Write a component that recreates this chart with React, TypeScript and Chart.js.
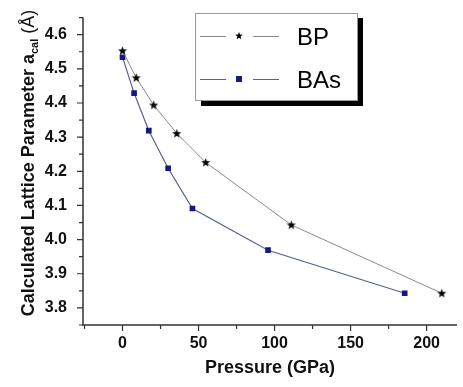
import React, { useEffect, useRef } from "react";
import { Chart, registerables } from "chart.js";

Chart.register(...registerables);

const bpPressure = [0, 9, 20.5, 35.7, 54.7, 111, 210];
const bpLattice = [4.553, 4.474, 4.394, 4.311, 4.226, 4.043, 3.843];
const basPressure = [0, 7.6, 17.3, 30, 46, 95.7, 185.6];
const basLattice = [4.534, 4.429, 4.319, 4.209, 4.091, 3.969, 3.843];

const xMajorTicks = [0, 50, 100, 150, 200];
const xMinorTicks = [-25, 25, 75, 125, 175];
const yMajorTicks = [3.8, 3.9, 4.0, 4.1, 4.2, 4.3, 4.4, 4.5, 4.6];
const yMinorTicks = [3.75, 3.85, 3.95, 4.05, 4.15, 4.25, 4.35, 4.45, 4.55, 4.65];

const seriesNames = ["BP", "BAs"];
const FONT = "'Liberation Sans', Arial, Helvetica, sans-serif";

function makeStar(): HTMLCanvasElement {
  const c = document.createElement("canvas");
  c.width = 11;
  c.height = 11;
  const g = c.getContext("2d")!;
  drawStar(g, 5.5, 5.8, 4.8, 2.0);
  return c;
}

function drawStar(g: CanvasRenderingContext2D, cx: number, cy: number, ro: number, ri: number) {
  g.beginPath();
  for (let i = 0; i < 10; i++) {
    const r = i % 2 === 0 ? ro : ri;
    const a = -Math.PI / 2 + (i * Math.PI) / 5;
    const px = cx + r * Math.cos(a);
    const py = cy + r * Math.sin(a);
    if (i === 0) g.moveTo(px, py);
    else g.lineTo(px, py);
  }
  g.closePath();
  g.fillStyle = "#000";
  g.fill();
}

const decorPlugin = {
  id: "decor",
  afterDraw(chart: any) {
    const ctx: CanvasRenderingContext2D = chart.ctx;
    const xs = chart.scales.x;
    const ys = chart.scales.y;
    const area = chart.chartArea;
    ctx.save();
    ctx.strokeStyle = "#333";
    ctx.lineWidth = 1.5;
    ctx.beginPath();
    ctx.moveTo(area.left, area.top);
    ctx.lineTo(area.left, area.bottom);
    ctx.lineTo(area.right, area.bottom);
    ctx.stroke();
    ctx.lineWidth = 1.2;
    ctx.beginPath();
    xMajorTicks.forEach((v) => {
      const px = xs.getPixelForValue(v);
      ctx.moveTo(px, area.bottom);
      ctx.lineTo(px, area.bottom + 6);
    });
    xMinorTicks.forEach((v) => {
      const px = xs.getPixelForValue(v);
      ctx.moveTo(px, area.bottom);
      ctx.lineTo(px, area.bottom + 4);
    });
    yMajorTicks.forEach((v) => {
      const py = ys.getPixelForValue(v);
      ctx.moveTo(area.left, py);
      ctx.lineTo(area.left - 6, py);
    });
    yMinorTicks.forEach((v) => {
      const py = ys.getPixelForValue(v);
      ctx.moveTo(area.left, py);
      ctx.lineTo(area.left - 4, py);
    });
    ctx.stroke();

    ctx.fillStyle = "#111";
    const mainText = "Calculated Lattice Parameter a";
    const subText = "cal";
    const tailText = " (\u00C5)";
    ctx.font = `bold 18px ${FONT}`;
    const w1 = ctx.measureText(mainText).width;
    ctx.font = `bold 11px ${FONT}`;
    const w2 = ctx.measureText(subText).width;
    ctx.font = `18px ${FONT}`;
    const w3 = ctx.measureText(tailText).width;
    const total = w1 + w2 + w3;
    ctx.translate(34, 163);
    ctx.rotate(-Math.PI / 2);
    ctx.textBaseline = "alphabetic";
    ctx.textAlign = "left";
    let sx = -total / 2;
    ctx.font = `bold 18px ${FONT}`;
    ctx.fillText(mainText, sx, 0);
    sx += w1;
    ctx.font = `bold 11px ${FONT}`;
    ctx.fillText(subText, sx, 4);
    sx += w2;
    ctx.font = `18px ${FONT}`;
    ctx.fillText(tailText, sx, 0);
    ctx.restore();

    ctx.save();
    ctx.fillStyle = "#000";
    ctx.fillRect(201, 18, 162, 88);
    ctx.fillStyle = "#fff";
    ctx.fillRect(195, 13, 163, 88);
    ctx.strokeStyle = "#999";
    ctx.lineWidth = 1;
    ctx.strokeRect(195.5, 13.5, 162, 87);
    const rows = [
      { y: 36, color: "#8a8a8a", name: seriesNames[0], base: 45 },
      { y: 79, color: "#56628f", name: seriesNames[1], base: 88 },
    ];
    rows.forEach((r, i) => {
      ctx.strokeStyle = r.color;
      ctx.lineWidth = 1;
      ctx.beginPath();
      ctx.moveTo(200, r.y + 0.5);
      ctx.lineTo(226, r.y + 0.5);
      ctx.moveTo(253, r.y + 0.5);
      ctx.lineTo(279, r.y + 0.5);
      ctx.stroke();
      if (i === 0) {
        drawStar(ctx, 239, r.y, 4, 1.7);
      } else {
        ctx.fillStyle = "#16168a";
        ctx.fillRect(236, r.y - 3, 6, 6);
      }
      ctx.fillStyle = "#000";
      ctx.font = `24px ${FONT}`;
      ctx.textAlign = "left";
      ctx.textBaseline = "alphabetic";
      ctx.fillText(r.name, 297, r.base);
    });
    ctx.restore();
  },
};

export default function App() {
  const ref = useRef<HTMLCanvasElement | null>(null);
  useEffect(() => {
    if (!ref.current) return;
    const star = makeStar();
    const chart = new Chart(ref.current, {
      type: "scatter",
      data: {
        datasets: [
          {
            label: seriesNames[0],
            data: bpPressure.map((x, i) => ({ x, y: bpLattice[i] })),
            showLine: true,
            borderColor: "#8a8a8a",
            borderWidth: 1,
            pointStyle: star as any,
            pointRadius: 5,
          },
          {
            label: seriesNames[1],
            data: basPressure.map((x, i) => ({ x, y: basLattice[i] })),
            showLine: true,
            borderColor: "#56628f",
            borderWidth: 1.2,
            pointStyle: "rect",
            pointRadius: 4,
            pointBackgroundColor: "#16168a",
            pointBorderColor: "#16168a",
            pointBorderWidth: 0,
          },
        ],
      },
      plugins: [decorPlugin],
      options: {
        responsive: false,
        animation: false,
        layout: { padding: { left: 0, top: 10, right: 0, bottom: 0 } },
        plugins: { legend: { display: false }, tooltip: { enabled: false } },
        scales: {
          x: {
            type: "linear",
            min: -26,
            max: 220,
            grid: { display: false },
            border: { display: false },
            afterBuildTicks: (s: any) => {
              s.ticks = xMajorTicks.map((v) => ({ value: v }));
            },
            ticks: {
              padding: 1,
              color: "#111",
              font: { family: FONT, size: 16, weight: "bold" },
              callback: (v: any) => String(v),
            },
            title: {
              display: true,
              text: "Pressure (GPa)",
              color: "#111",
              font: { family: FONT, size: 18, weight: "bold" },
              padding: { top: 6, bottom: 8 },
            },
            afterFit: (s: any) => {
              s.height = 62;
            },
          },
          y: {
            type: "linear",
            min: 3.75,
            max: 4.65,
            grid: { display: false },
            border: { display: false },
            afterBuildTicks: (s: any) => {
              s.ticks = yMajorTicks.map((v) => ({ value: v }));
            },
            ticks: {
              padding: 8,
              color: "#111",
              font: { family: FONT, size: 16, weight: "bold" },
              callback: (v: any) => Number(v).toFixed(1),
            },
            afterFit: (s: any) => {
              s.width = 83;
            },
          },
        },
      } as any,
    });
    return () => chart.destroy();
  }, []);
  return (
    <div style={{ position: "fixed", left: 0, top: 0, width: 463, height: 387, background: "#fff" }}>
      <canvas ref={ref} width={463} height={387} />
    </div>
  );
}
